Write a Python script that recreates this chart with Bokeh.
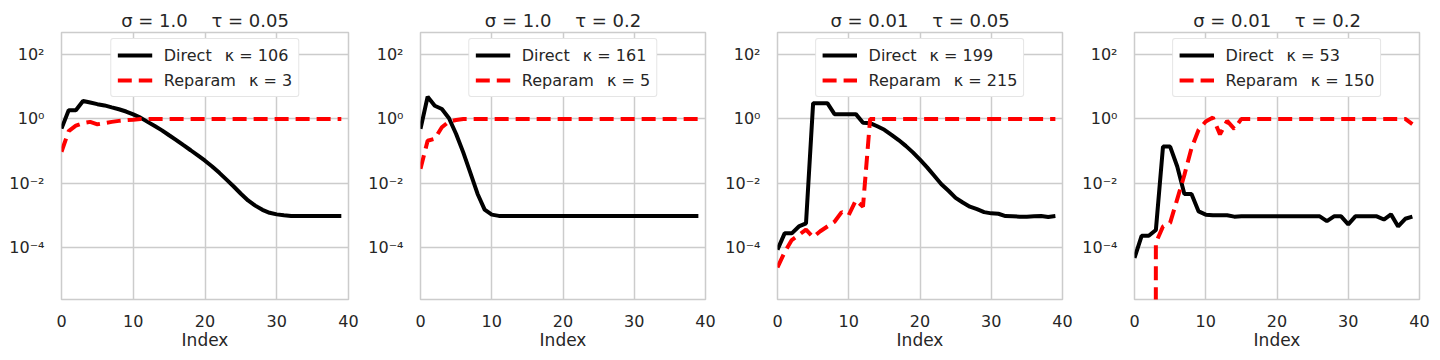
import numpy as np
from bokeh.plotting import figure
from bokeh.layouts import row
from bokeh.models import Range1d, FixedTicker, CustomJSTickFormatter, Legend, LegendItem
from bokeh.embed import file_html
from bokeh.resources import INLINE

# ---------------- data ----------------
index = list(range(40))

titles = ["σ = 1.0 \u2003τ = 0.05", "σ = 1.0 \u2003τ = 0.2",
          "σ = 0.01 \u2003τ = 0.05", "σ = 0.01 \u2003τ = 0.2"]
kappa_direct = [106, 161, 199, 53]
kappa_reparam = [3, 5, 215, 150]

direct_1 = [0.50, 1.86, 1.86, 3.63, 3.24, 2.88, 2.63, 2.29, 2.00, 1.70,
            1.38, 1.10, 0.81, 0.60, 0.44, 0.31, 0.22, 0.152, 0.106, 0.073,
            0.050, 0.033, 0.021, 0.0129, 0.0079, 0.0047, 0.0029, 0.0020, 0.00148, 0.0012,
            0.00107, 0.0010, 0.00095, 0.00095, 0.00095, 0.00095, 0.00095, 0.00095, 0.00095, 0.00095]
reparam_1 = [0.095, 0.42, 0.62, 0.74, 0.81, 0.68, 0.74, 0.81, 0.87, 0.91,
             0.95, 1.0, 1.0, 1.0, 1.0, 1.0, 1.0, 1.0, 1.0, 1.0,
             1.0, 1.0, 1.0, 1.0, 1.0, 1.0, 1.0, 1.0, 1.0, 1.0,
             1.0, 1.0, 1.0, 1.0, 1.0, 1.0, 1.0, 1.0, 1.0, 1.0]

direct_2 = [0.49, 4.9, 2.57, 2.04, 1.05, 0.34, 0.091, 0.021, 0.0047, 0.0015,
            0.00105, 0.00096, 0.00095, 0.00095, 0.00095, 0.00095, 0.00095, 0.00095, 0.00095, 0.00095,
            0.00095, 0.00095, 0.00095, 0.00095, 0.00095, 0.00095, 0.00095, 0.00095, 0.00095, 0.00095,
            0.00095, 0.00095, 0.00095, 0.00095, 0.00095, 0.00095, 0.00095, 0.00095, 0.00095, 0.00095]
reparam_2 = [0.028, 0.21, 0.24, 0.55, 0.83, 0.93, 1.0, 1.0, 1.0, 1.0,
             1.0, 1.0, 1.0, 1.0, 1.0, 1.0, 1.0, 1.0, 1.0, 1.0,
             1.0, 1.0, 1.0, 1.0, 1.0, 1.0, 1.0, 1.0, 1.0, 1.0,
             1.0, 1.0, 1.0, 1.0, 1.0, 1.0, 1.0, 1.0, 1.0, 1.0]

direct_3 = [8.5e-5, 2.75e-4, 2.75e-4, 4.5e-4, 5.6e-4, 3.1, 3.1, 3.1, 1.41, 1.41,
            1.41, 1.41, 0.76, 0.74, 0.59, 0.46, 0.32, 0.22, 0.145, 0.091,
            0.054, 0.031, 0.017, 0.0093, 0.0058, 0.0035, 0.0025, 0.00186, 0.00155, 0.00126,
            0.00115, 0.00112, 0.00095, 0.00093, 0.00091, 0.00091, 0.00093, 0.00095, 0.00089, 0.00095]
reparam_3 = [2.4e-5, 7.1e-5, 1.7e-4, 2.45e-4, 3.6e-4, 2.1e-4, 3.2e-4, 4.5e-4, 6.3e-4, 1.26e-3,
             1.02e-3, 2.95e-3, 1.86e-3, 1.0, 1.0, 1.0, 1.0, 1.0, 1.0, 1.0,
             1.0, 1.0, 1.0, 1.0, 1.0, 1.0, 1.0, 1.0, 1.0, 1.0,
             1.0, 1.0, 1.0, 1.0, 1.0, 1.0, 1.0, 1.0, 1.0, 1.0]

direct_4 = [4.7e-5, 2.3e-4, 2.3e-4, 3.5e-4, 0.138, 0.138, 0.033, 0.0046, 0.0046, 0.00132,
            0.00105, 0.001, 0.001, 0.001, 0.00091, 0.00093, 0.00093, 0.00093, 0.00093, 0.00093,
            0.00093, 0.00093, 0.00093, 0.00093, 0.00093, 0.00093, 0.00093, 0.00066, 0.00093, 0.00093,
            0.00052, 0.00093, 0.00093, 0.00093, 0.00093, 0.00074, 0.00107, 0.00045, 0.00078, 0.00091]
reparam_4 = [0.0, 0.0, 0.0, 1.4e-4, 4.5e-4, 5.8e-4, 0.0032, 0.018, 0.123, 0.46,
             0.83, 1.10, 0.33, 0.87, 0.49, 1.0, 1.0, 1.0, 1.0, 1.0,
             1.0, 1.0, 1.0, 1.0, 1.0, 1.0, 1.0, 1.0, 1.0, 1.0,
             1.0, 1.0, 1.0, 1.0, 1.0, 1.0, 1.0, 1.0, 1.0, 0.69]

x_ticks = [0, 10, 20, 30, 40]
y_ticks = [1e-4, 1e-2, 1.0, 1e2]
y_limits = (10 ** -5.62, 10 ** 2.69)

directs = [direct_1, direct_2, direct_3, direct_4]
reparams = [reparam_1, reparam_2, reparam_3, reparam_4]

FONT = "DejaVu Sans"
TXT = "#262626"
GRID = "#cccccc"

sup_fmt = CustomJSTickFormatter(code="""
const e = Math.round(Math.log10(tick));
const sup = {'-':'\u207b','0':'\u2070','1':'\u00b9','2':'\u00b2','3':'\u00b3','4':'\u2074','5':'\u2075','6':'\u2076','7':'\u2077','8':'\u2078','9':'\u2079'};
return '10' + String(e).split('').map(c => sup[c]).join('');
""")


def clip_nonpos(vals):
    # like matplotlib's log-scale 'clip': non-positive values go far below the axis
    a = np.asarray(vals, dtype=float)
    return np.where(a > 0, a, 1e-300)


def panel(k):
    left = 61 if k == 0 else 53
    p = figure(width=357 + (left - 53), height=352,
               x_range=Range1d(0, 40), y_range=Range1d(*y_limits),
               y_axis_type="log", output_backend="svg", toolbar_location=None,
               min_border_left=left, min_border_right=17, min_border_top=32, min_border_bottom=52)
    p.title.text = titles[k]
    p.title.align = "center"
    p.title.text_font = FONT
    p.title.text_font_size = "18px"
    p.title.text_font_style = "normal"
    p.title.text_color = TXT
    p.title.standoff = 4

    r1 = p.line(index, clip_nonpos(directs[k]), line_color="black", line_width=4)
    r2 = p.line(index, clip_nonpos(reparams[k]), line_color="red", line_width=4, line_dash="14 7")

    legend = Legend(items=[
        LegendItem(label=f"Direct\u2002 κ = {kappa_direct[k]}", renderers=[r1]),
        LegendItem(label=f"Reparam\u2002 κ = {kappa_reparam[k]}", renderers=[r2]),
    ], location="top_center")
    legend.label_text_font = FONT
    legend.label_text_font_size = "16px"
    legend.label_text_color = TXT
    legend.border_line_color = GRID
    legend.border_line_width = 1
    legend.border_radius = 3
    legend.background_fill_color = "white"
    legend.background_fill_alpha = 1.0
    legend.padding = 6
    legend.spacing = 5
    legend.margin = 6
    legend.glyph_width = 35
    legend.glyph_height = 20
    legend.label_height = 20
    legend.label_standoff = 12
    p.add_layout(legend)

    p.xaxis.ticker = FixedTicker(ticks=x_ticks)
    p.yaxis.ticker = FixedTicker(ticks=y_ticks)
    p.yaxis.formatter = sup_fmt
    p.xaxis.axis_label = "Index"
    for ax in (p.xaxis, p.yaxis):
        ax.axis_line_color = None
        ax.major_tick_line_color = None
        ax.minor_tick_line_color = None
        ax.major_label_text_font = FONT
        ax.major_label_text_font_size = "16px"
        ax.major_label_text_color = TXT
    p.xaxis.major_label_standoff = 9
    p.yaxis.major_label_standoff = 11
    p.xaxis.axis_label_text_font = FONT
    p.xaxis.axis_label_text_font_size = "17px"
    p.xaxis.axis_label_text_font_style = "normal"
    p.xaxis.axis_label_text_color = TXT
    p.xaxis.axis_label_standoff = 0

    p.xgrid.grid_line_color = GRID
    p.ygrid.grid_line_color = GRID
    p.xgrid.grid_line_width = 1.5
    p.ygrid.grid_line_width = 1.5
    p.outline_line_color = GRID
    p.outline_line_width = 1.5
    p.background_fill_color = "white"
    p.border_fill_color = "white"
    return p


layout = row([panel(k) for k in range(4)], spacing=0)
open("out.html", "w").write(file_html(layout, INLINE))
